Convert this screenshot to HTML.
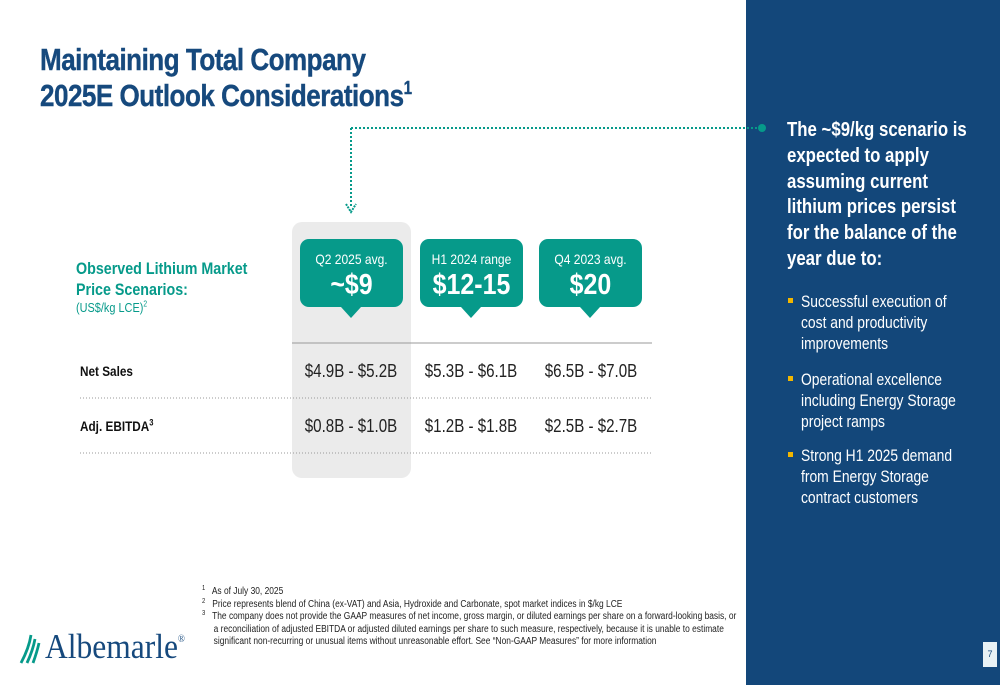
<!DOCTYPE html>
<html><head><meta charset="utf-8"><style>
body{margin:0;width:1000px;height:685px;position:relative;overflow:hidden;background:#fff;font-family:"Liberation Sans",Arial,sans-serif}
sup{line-height:0}
.a{position:absolute;white-space:nowrap}
.n{transform:scaleX(.84);transform-origin:left top}
.c{transform:translateX(-50%) scaleX(.84);transform-origin:center top}
.bub{position:absolute;top:239px;width:103px;height:68px;background:#069a8a;border-radius:9px;color:#fff;text-align:center}
.bub:after{content:"";position:absolute;left:41px;top:68px;border-left:10px solid transparent;border-right:10px solid transparent;border-top:11px solid #069a8a}
.bub .s{position:absolute;top:12px;left:0;right:0;font-size:14px;transform:scaleX(.86)}
.bub .b{position:absolute;top:30px;left:0;right:0;font-size:29px;font-weight:bold;transform:scaleX(.86)}
.val{font-size:18px;color:#222}
.rt{color:#fff;font-size:20px;font-weight:bold}
.bl{color:#fff;font-size:16.5px}
.sq{position:absolute;width:5px;height:5px;background:#f2b600}
.fn{font-size:10px;color:#222}
.fn sup{font-size:7px;vertical-align:4px}
</style></head><body>
<div class="a n" style="left:40px;top:42px;font-size:31px;font-weight:bold;color:#16497d;line-height:36px;letter-spacing:-0.6px;-webkit-text-stroke:0.4px #16497d">Maintaining Total Company<br>2025E Outlook Considerations<sup style="font-size:18px;vertical-align:12px">1</sup></div>

<div style="position:absolute;left:746px;top:0;width:254px;height:685px;background:#13477a"></div>

<svg class="a" style="left:0;top:0" width="1000" height="685">
<path d="M351 128 H760" stroke="#069a8a" stroke-width="2" stroke-dasharray="2 2" fill="none"/>
<path d="M351 128 V208" stroke="#069a8a" stroke-width="2" stroke-dasharray="2 2" fill="none"/>
<path d="M346 204 L351 212 L356 204" stroke="#069a8a" stroke-width="2" fill="none" stroke-dasharray="2 1"/>
<circle cx="762" cy="128" r="4" fill="#069a8a"/>
<line x1="292" y1="343" x2="652" y2="343" stroke="#999" stroke-width="1"/>
<line x1="80" y1="398" x2="652" y2="398" stroke="#999" stroke-width="1" stroke-dasharray="1 2"/>
<line x1="80" y1="453" x2="652" y2="453" stroke="#999" stroke-width="1" stroke-dasharray="1 2"/>
</svg>

<div style="position:absolute;left:292px;top:222px;width:119px;height:256px;background:#ebebeb;border-radius:10px;z-index:-1"></div>

<div class="bub" style="left:300px"><div class="s">Q2 2025 avg.</div><div class="b">~$9</div></div>
<div class="bub" style="left:420px"><div class="s">H1 2024 range</div><div class="b">$12-15</div></div>
<div class="bub" style="left:539px"><div class="s">Q4 2023 avg.</div><div class="b">$20</div></div>

<div class="a n" style="left:76px;top:258px;color:#069a8a;font-size:17px;font-weight:bold;line-height:21px">Observed Lithium Market<br>Price Scenarios:</div>
<div class="a n" style="left:76px;top:300px;color:#069a8a;font-size:13px">(US$/kg LCE)<sup style="font-size:8px">2</sup></div>

<div class="a n" style="left:80px;top:363px;font-size:14px;font-weight:bold;color:#111">Net Sales</div>
<div class="a n" style="left:80px;top:418px;font-size:14px;font-weight:bold;color:#111">Adj. EBITDA<sup style="font-size:9px">3</sup></div>

<div class="a c val" style="left:351px;top:361px">$4.9B - $5.2B</div>
<div class="a c val" style="left:471px;top:361px">$5.3B - $6.1B</div>
<div class="a c val" style="left:591px;top:361px">$6.5B - $7.0B</div>
<div class="a c val" style="left:351px;top:416px">$0.8B - $1.0B</div>
<div class="a c val" style="left:471px;top:416px">$1.2B - $1.8B</div>
<div class="a c val" style="left:591px;top:416px">$2.5B - $2.7B</div>

<div class="a n rt" style="left:787px;top:118px;line-height:25.8px">The ~$9/kg scenario is<br>expected to apply<br>assuming current<br>lithium prices persist<br>for the balance of the<br>year due to:</div>

<div class="sq" style="left:788px;top:298px"></div>
<div class="a n bl" style="left:801px;top:292px;line-height:21px">Successful execution of<br>cost and productivity<br>improvements</div>
<div class="sq" style="left:788px;top:376px"></div>
<div class="a n bl" style="left:801px;top:370px;line-height:21px">Operational excellence<br>including Energy Storage<br>project ramps</div>
<div class="sq" style="left:788px;top:452px"></div>
<div class="a n bl" style="left:801px;top:446px;line-height:21px">Strong H1 2025 demand<br>from Energy Storage<br>contract customers</div>

<div class="a n fn" style="left:202px;top:586px;line-height:12.5px">
<sup>1</sup>&nbsp;&nbsp; As of July 30, 2025<br>
<sup>2</sup>&nbsp;&nbsp; Price represents blend of China (ex-VAT) and Asia, Hydroxide and Carbonate, spot market indices in $/kg LCE<br>
<sup>3</sup>&nbsp;&nbsp; The company does not provide the GAAP measures of net income, gross margin, or diluted earnings per share on a forward-looking basis, or<br>
&nbsp;&nbsp;&nbsp;&nbsp; a reconciliation of adjusted EBITDA or adjusted diluted earnings per share to such measure, respectively, because it is unable to estimate<br>
&nbsp;&nbsp;&nbsp;&nbsp; significant non-recurring or unusual items without unreasonable effort. See “Non-GAAP Measures” for more information</div>

<svg class="a" style="left:19px;top:633px" width="26" height="32">
<path d="M2 30 Q10 15 12 2 M8 30 Q14 17 16 6 M14 30 Q18 19 20 10" stroke="#069a8a" stroke-width="2.8" fill="none"/>
</svg>
<div class="a" style="left:45px;top:627px;font-family:'Liberation Serif',serif;font-size:35px;color:#16497d;transform:scaleX(.9);transform-origin:left top">Albemarle<sup style="font-size:10px;vertical-align:16px">®</sup></div>

<div class="a" style="left:983px;top:642px;width:14px;height:25px;background:#e8f1f4;font-size:9px;color:#16497d;text-align:center;line-height:25px">7</div>
</body></html>
